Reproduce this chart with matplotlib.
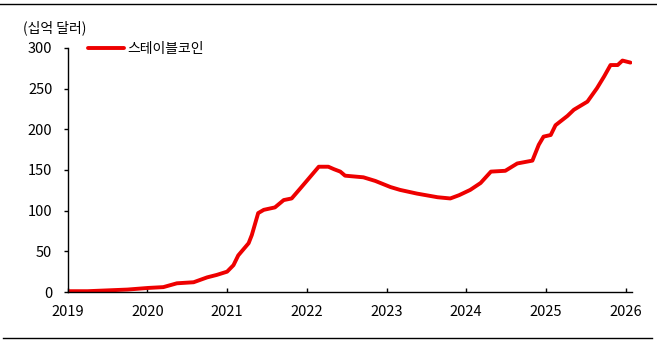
import matplotlib.pyplot as plt
from matplotlib.lines import Line2D

plt.rcParams['font.family'] = ['Noto Sans CJK KR', 'DejaVu Sans']

# stablecoin market cap, billions of USD (decimal year, value)
years = [2019.00, 2019.25, 2019.50, 2019.75, 2020.01, 2020.20, 2020.37, 2020.58,
         2020.75, 2020.87, 2021.00, 2021.08, 2021.14, 2021.27, 2021.31, 2021.39,
         2021.46, 2021.60, 2021.71, 2021.81, 2021.92, 2022.02, 2022.15, 2022.27,
         2022.34, 2022.42, 2022.48, 2022.71, 2022.86, 2023.05, 2023.17, 2023.38,
         2023.64, 2023.80, 2023.91, 2024.05, 2024.18, 2024.31, 2024.49, 2024.64,
         2024.83, 2024.91, 2024.97, 2025.06, 2025.12, 2025.27, 2025.35, 2025.52,
         2025.64, 2025.73, 2025.81, 2025.90, 2025.96, 2026.02, 2026.06]
supply = [1, 1, 2, 3, 5, 6, 10.7, 12,
          18, 21, 25, 33, 45, 60, 70, 97,
          101, 104, 113, 115, 127.5, 139, 154, 154,
          151, 148, 143, 141, 136.5, 129, 125.5, 121,
          116.5, 115, 119, 125.5, 134, 148, 149, 158,
          161.5, 181, 191, 193, 205, 216.5, 224, 234,
          250.5, 265, 279, 279, 284.5, 283, 282]

year_ticks = [2019, 2020, 2021, 2022, 2023, 2024, 2025, 2026]
value_ticks = [0, 50, 100, 150, 200, 250, 300]

fig = plt.figure(figsize=(6.57, 3.45), dpi=100)
ax = fig.add_axes([0.103, 0.1536, 0.859, 0.7074])

ax.plot(years, supply, color='#ee0000', linewidth=2.8, solid_capstyle='round',
        label='스테이블코인')

ax.set_xlim(2019, 2026.08)
ax.set_ylim(0, 300)
ax.set_xticks(year_ticks)
ax.set_xticklabels([str(y) for y in year_ticks])
ax.set_yticks(value_ticks)

for side in ['top', 'right']:
    ax.spines[side].set_visible(False)
for side in ['left', 'bottom']:
    ax.spines[side].set_linewidth(1.0)
    ax.spines[side].set_color('black')

ax.tick_params(axis='y', direction='out', length=3, width=1, labelsize=10.5, pad=8)
ax.tick_params(axis='x', direction='in', length=3, width=1, labelsize=10.5, pad=9)

leg = ax.legend(loc='upper left', bbox_to_anchor=(0.021, 1.06), frameon=False,
                fontsize=10, handlelength=2.6, handletextpad=0.25, borderaxespad=0.2)

fig.text(0.035, 0.919, '(십억 달러)', fontsize=10, va='center', ha='left')

# horizontal rules above and below the chart
fig.add_artist(Line2D([0.0, 1.0], [0.988, 0.988], color='black', linewidth=1.0))
fig.add_artist(Line2D([0.005, 0.993], [0.02, 0.02], color='black', linewidth=1.0))

fig.savefig('out.png', dpi=100)
